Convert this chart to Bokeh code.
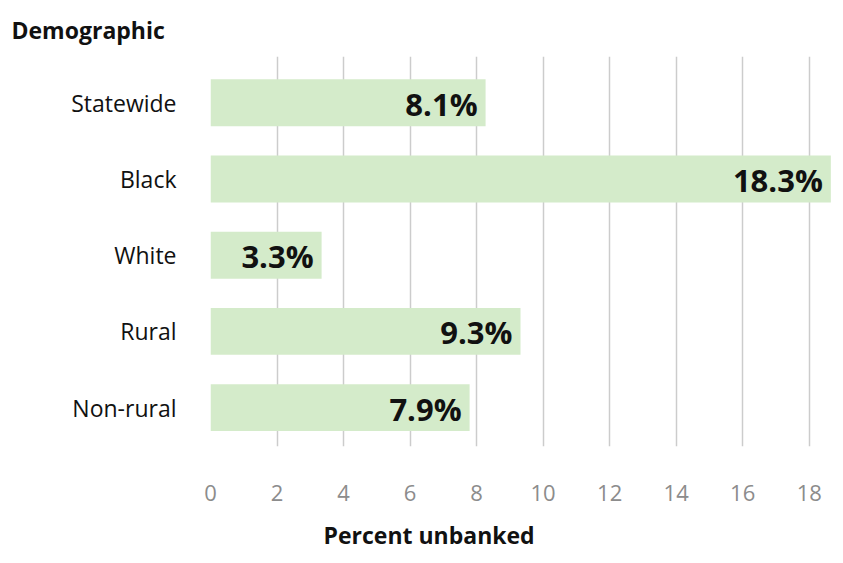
from bokeh.plotting import figure
from bokeh.models import Range1d, FixedTicker, Title, ColumnDataSource
from bokeh.core.properties import value
from bokeh.embed import file_html
from bokeh.resources import INLINE

categories = ["Statewide", "Black", "White", "Rural", "Non-rural"]
# bar lengths as drawn in the picture
values = [8.27, 18.65, 3.34, 9.32, 7.79]
bar_labels = ["8.1%", "18.3%", "3.3%", "9.3%", "7.9%"]
x_ticks = [0, 2, 4, 6, 8, 10, 12, 14, 16, 18]

FONT = "Open Sans"
n = len(categories)
positions = [n - 1 - i for i in range(n)]

src = ColumnDataSource(dict(y=positions, v=values, lab=bar_labels, cat=categories))

p = figure(width=843, height=563, output_backend="svg", toolbar_location=None,
           x_range=Range1d(0, 18.7), y_range=Range1d(-0.509, 4.607),
           min_border_left=210, min_border_right=11, min_border_top=54,
           min_border_bottom=117)
p.outline_line_color = None
p.background_fill_color = "white"
p.border_fill_color = "white"

p.hbar(y="y", right="v", left=0, height=0.614, source=src,
       fill_color="#d4ebca", line_color=None)
p.text(x="v", y="y", text="lab", source=src, x_offset=-8, y_offset=1,
       text_align="right", text_baseline="middle",
       text_font=value(FONT), text_font_style="bold",
       text_font_size="31px", text_color="#111111")

# x axis
p.xaxis.ticker = FixedTicker(ticks=x_ticks)
p.xaxis.axis_line_color = None
p.xaxis.major_tick_line_color = None
p.xaxis.minor_tick_line_color = None
p.xaxis.major_tick_out = 0
p.xaxis.minor_tick_out = 0
p.xaxis.major_label_text_font = FONT
p.xaxis.major_label_text_font_size = "22px"
p.xaxis.major_label_text_color = "#8c8c8c"
p.xaxis.major_label_standoff = 38
# blank spacer label to push the axis title further down
p.xaxis.axis_label = " "
p.xaxis.axis_label_text_font_size = "8px"
p.xaxis.axis_label_standoff = 3

# y axis with category names
p.yaxis.ticker = FixedTicker(ticks=positions)
p.yaxis.major_label_overrides = {pos: c for pos, c in zip(positions, categories)}
p.yaxis.axis_line_color = None
p.yaxis.major_tick_line_color = None
p.yaxis.minor_tick_line_color = None
p.yaxis.major_tick_out = 0
p.yaxis.minor_tick_out = 0
p.yaxis.major_label_text_font = FONT
p.yaxis.major_label_text_font_size = "23px"
p.yaxis.major_label_text_color = "#111111"
p.yaxis.major_label_standoff = 34

p.xgrid.ticker = FixedTicker(ticks=x_ticks)
p.xgrid.grid_line_color = "#cccccc"
p.xgrid.grid_line_width = 1.5
p.ygrid.grid_line_color = None

p.add_layout(Title(text="Demographic", align="left", offset=-199,
                   text_font=FONT, text_font_style="bold",
                   text_font_size="23px", text_color="#111111",
                   standoff=22), "above")
p.add_layout(Title(text="Percent unbanked", align="left", offset=113,
                   text_font=FONT, text_font_style="bold",
                   text_font_size="23px", text_color="#111111",
                   vertical_align="top", standoff=0), "below")

open("out.html", "w").write(file_html(p, INLINE))
